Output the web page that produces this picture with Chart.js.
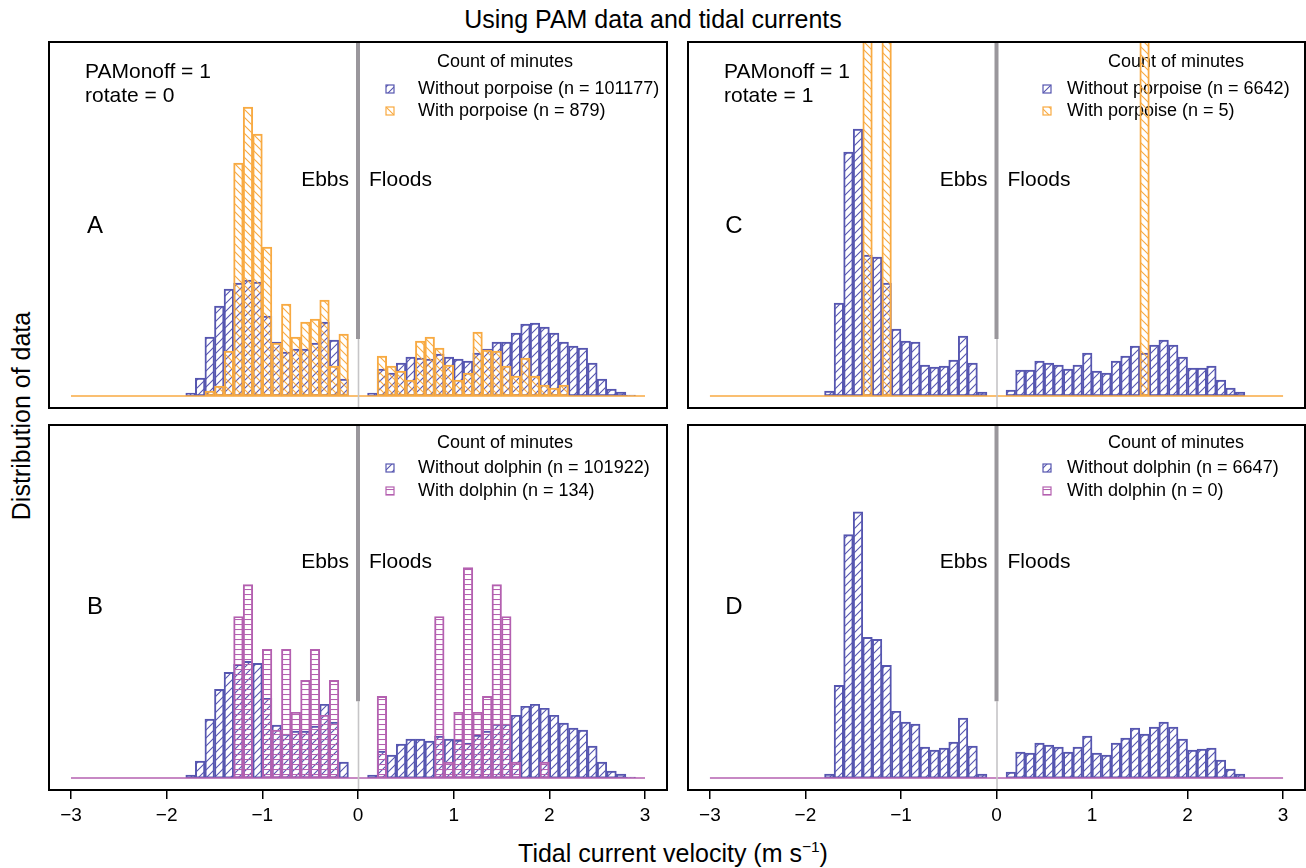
<!DOCTYPE html>
<html>
<head>
<meta charset="utf-8">
<script src="https://cdn.jsdelivr.net/npm/chart.js@4.4.0/dist/chart.umd.min.js"></script>
<style>
  body { margin: 0; background: #fff; width: 1306px; height: 868px; position: relative; overflow: hidden;
         font-family: "Liberation Sans", Arial, Helvetica, sans-serif; color: #000; }
  canvas { position: absolute; }
  .lbl { position: absolute; white-space: nowrap; transform: translate(-50%, -50%); font-size: 25px; }
  #ylab { transform: translate(-50%, -50%) rotate(-90deg); }
  sup { font-size: 0.62em; line-height: 0; }
</style>
</head>
<body>
<div class="lbl" id="title" style="left:653px; top:19px;">Using PAM data and tidal currents</div>
<div class="lbl" id="ylab" style="left:21px; top:416px;">Distribution of data</div>
<div class="lbl" id="xlab" style="left:673px; top:853px;">Tidal current velocity (m s<sup>−1</sup>)</div>

<canvas id="panelA" width="620" height="368" style="left:48px; top:41px;"></canvas>
<canvas id="panelC" width="619" height="368" style="left:687px; top:41px;"></canvas>
<canvas id="panelB" width="620" height="407" style="left:48px; top:424px;"></canvas>
<canvas id="panelD" width="619" height="407" style="left:687px; top:424px;"></canvas>

<script>
// histogram bins of tidal current velocity (m/s), 0.1 wide, centres
const binCenters = [
  -1.95, -1.85, -1.75, -1.65, -1.55, -1.45, -1.35, -1.25, -1.15, -1.05,
  -0.95, -0.85, -0.75, -0.65, -0.55, -0.45, -0.35, -0.25, -0.15, -0.05,
   0.05,  0.15,  0.25,  0.35,  0.45,  0.55,  0.65,  0.75,  0.85,  0.95,
   1.05,  1.15,  1.25,  1.35,  1.45,  1.55,  1.65,  1.75,  1.85,  1.95,
   2.05,  2.15,  2.25,  2.35,  2.45,  2.55,  2.65,  2.75,  2.85,  2.95
];

// relative density per bin (null = empty bin)
const withoutPorpoiseA = [
  null, null, 0.03, 0.18, 0.59, 0.90, 1.07, 1.13, 1.16, 1.14,
  0.80, 0.54, 0.44, 0.47, 0.47, 0.53, 0.74, 0.56, 0.17, null,
  null, 0.03, 0.27, 0.23, 0.33, 0.39, 0.38, 0.37, 0.42, 0.39,
  0.37, 0.35, 0.43, 0.47, 0.54, 0.54, 0.63, 0.72, 0.73, 0.69,
  0.63, 0.54, 0.50, 0.48, 0.33, 0.17, 0.07, 0.04, 0.01, null
];
const withPorpoiseA = [
  null, null, null, null, 0.05, 0.10, 0.45, 2.33, 2.89, 2.62,
  1.49, 0.53, 0.92, 0.59, 0.74, 0.77, 0.96, 0.30, 0.62, null,
  null, null, 0.40, 0.30, 0.25, 0.16, 0.55, 0.59, 0.48, 0.31,
  0.16, 0.23, 0.64, 0.46, 0.45, 0.30, 0.20, 0.38, 0.20, 0.11,
  0.08, 0.11, null, null, null, null, null, null, null, null
];
const withoutDolphinB = [
  null, null, 0.03, 0.17, 0.59, 0.89, 1.06, 1.14, 1.17, 1.15,
  0.80, 0.53, 0.44, 0.47, 0.47, 0.52, 0.74, 0.56, 0.16, null,
  null, 0.03, 0.27, 0.23, 0.34, 0.39, 0.39, 0.37, 0.42, 0.39,
  0.38, 0.35, 0.43, 0.47, 0.54, 0.54, 0.63, 0.72, 0.74, 0.70,
  0.63, 0.55, 0.50, 0.48, 0.32, 0.16, 0.07, 0.04, 0.01, null
];
const withDolphinB = [
  null, null, null, null, null, null, null, 1.62, 1.94, null,
  1.29, 0.48, 1.29, 0.66, 0.98, 1.29, 0.63, 0.98, null, null,
  null, null, 0.82, null, null, null, null, null, 1.62, 0.16,
  0.66, 2.11, 0.66, 0.82, 1.94, 1.62, 0.16, null, null, 0.16,
  null, null, null, null, null, null, null, null, null, null
];
const withoutPorpoiseC = [
  null, null, 0.05, 0.93, 2.44, 2.67, 1.41, 1.39, 1.13, 0.67,
  0.55, 0.54, 0.31, 0.29, 0.30, 0.36, 0.60, 0.33, 0.04, null,
  null, 0.06, 0.26, 0.26, 0.35, 0.33, 0.31, 0.27, 0.31, 0.43,
  0.25, 0.23, 0.35, 0.40, 0.50, 0.43, 0.51, 0.56, 0.51, 0.39,
  0.28, 0.28, 0.30, 0.16, 0.08, 0.04, null, null, null, null
];
const withPorpoiseC = [
  null, null, null, null, null, null, 8.0, null, 8.0, null,
  null, null, null, null, null, null, null, null, null, null,
  null, null, null, null, null, null, null, null, null, null,
  null, null, null, null, null, 4.0, null, null, null, null,
  null, null, null, null, null, null, null, null, null, null
];
const withoutDolphinD = [
  null, null, 0.04, 0.93, 2.44, 2.67, 1.41, 1.39, 1.13, 0.67,
  0.56, 0.54, 0.31, 0.28, 0.30, 0.36, 0.60, 0.32, 0.04, null,
  null, 0.06, 0.26, 0.25, 0.35, 0.33, 0.31, 0.26, 0.31, 0.42,
  0.25, 0.23, 0.35, 0.40, 0.50, 0.44, 0.51, 0.56, 0.51, 0.39,
  0.28, 0.29, 0.30, 0.18, 0.09, 0.04, null, null, null, null
];
const withDolphinD = []; // n = 0

const baselineX = [-3, 3];
const xTicks = [-3, -2, -1, 0, 1, 2, 3];
const xTickLabels = ['−3', '−2', '−1', '0', '1', '2', '3'];

const FONT = '"Liberation Sans", Arial, Helvetica, sans-serif';
const BLUE = 'rgb(86, 86, 176)';
const ORANGE = 'rgb(248, 170, 66)';
const PURPLE = 'rgb(180, 96, 176)';

// hatch fill like R's density/angle shading
function hatch(color, kind) {
  const c = document.createElement('canvas');
  const s = 8;
  c.width = s;
  c.height = kind === '-' ? 5 : s;
  const g = c.getContext('2d');
  g.strokeStyle = color;
  g.lineWidth = 1.1;
  g.beginPath();
  if (kind === '/') {
    g.moveTo(0, s); g.lineTo(s, 0);
    g.moveTo(-2, 2); g.lineTo(2, -2);
    g.moveTo(s - 2, s + 2); g.lineTo(s + 2, s - 2);
  } else if (kind === '\\') {
    g.moveTo(0, 0); g.lineTo(s, s);
    g.moveTo(-2, s - 2); g.lineTo(2, s + 2);
    g.moveTo(s - 2, -2); g.lineTo(s + 2, 2);
  } else {
    g.moveTo(0, 0.5); g.lineTo(s, 0.5);
  }
  g.stroke();
  return g.createPattern(c, 'repeat');
}

const blueHatch = hatch(BLUE, '/');
const orangeHatch = hatch(ORANGE, '\\');
const purpleHatch = hatch(PURPLE, '-');

function barSet(values, color, pattern, order) {
  return {
    type: 'bar',
    data: binCenters.map((x, i) => ({ x: x, y: values[i] === undefined ? null : values[i] })),
    backgroundColor: pattern,
    borderColor: color,
    borderWidth: 1.3,
    borderSkipped: false,
    barPercentage: 1,
    categoryPercentage: 1,
    grouped: false,
    clip: 0,
    order: order
  };
}

function baseline(color) {
  return {
    type: 'line',
    data: baselineX.map(x => ({ x: x, y: 0 })),
    borderColor: color,
    borderWidth: 1.6,
    pointRadius: 0,
    fill: false,
    order: 0
  };
}

// panel annotations: legend, labels, the flood/ebb divider and the box
function decor(spec) {
  return {
    id: 'decor',
    beforeDatasetsDraw(chart) {
      const ctx = chart.ctx, area = chart.chartArea;
      const x0 = chart.scales.x.getPixelForValue(0);
      ctx.save();
      ctx.fillStyle = '#000';
      ctx.textBaseline = 'middle';
      ctx.font = '21px ' + FONT;
      ctx.textAlign = 'left';
      spec.notes.forEach((t, k) => ctx.fillText(t, area.left + 37, area.top + 31 + 24 * k));
      ctx.textAlign = 'right';
      ctx.fillText('Ebbs', x0 - 9, area.top + spec.tideY);
      ctx.textAlign = 'left';
      ctx.fillText('Floods', x0 + 11, area.top + spec.tideY);
      ctx.font = '24px ' + FONT;
      ctx.textAlign = 'center';
      ctx.fillText(spec.letter, area.left + 47, area.top + spec.letterY);

      ctx.font = '18px ' + FONT;
      ctx.fillText('Count of minutes', area.left + spec.legend.titleX, area.top + spec.legend.titleY);
      spec.legend.items.forEach((it, k) => {
        const y = area.top + spec.legend.rowY[k];
        const sx = area.left + spec.legend.boxX;
        ctx.fillStyle = it.pattern;
        ctx.fillRect(sx - 4, y - 4, 8, 8);
        ctx.strokeStyle = it.color;
        ctx.lineWidth = 1.2;
        ctx.strokeRect(sx - 4, y - 4, 8, 8);
        ctx.fillStyle = '#000';
        ctx.textAlign = 'left';
        ctx.fillText(it.text, area.left + spec.legend.textX, y);
      });
      ctx.restore();
    },
    afterDatasetsDraw(chart) {
      const ctx = chart.ctx, area = chart.chartArea;
      const x0 = chart.scales.x.getPixelForValue(0);
      const yBreak = chart.scales.y.getPixelForValue(spec.grayBreak);
      ctx.save();
      ctx.strokeStyle = '#c6c5c7';
      ctx.lineWidth = 1.6;
      ctx.beginPath();
      ctx.moveTo(x0 + 0.5, yBreak);
      ctx.lineTo(x0 + 0.5, area.bottom);
      ctx.stroke();
      ctx.strokeStyle = '#9a979c';
      ctx.lineWidth = 4;
      ctx.beginPath();
      ctx.moveTo(x0, area.top);
      ctx.lineTo(x0, yBreak);
      ctx.stroke();
      ctx.restore();
    },
    afterDraw(chart) {
      const ctx = chart.ctx, area = chart.chartArea;
      ctx.save();
      ctx.strokeStyle = '#000';
      ctx.lineWidth = 2;
      ctx.strokeRect(area.left + 1, area.top + 1, area.width - 2, area.height - 2);
      ctx.restore();
    }
  };
}

function makePanel(id, datasets, showAxis, spec) {
  const xScale = {
    type: 'linear',
    min: -3.24,
    max: 3.24,
    offset: false,
    display: showAxis,
    afterBuildTicks: (scale) => { scale.ticks = xTicks.map(v => ({ value: v })); },
    border: { display: false },
    grid: { offset: false, drawOnChartArea: false, drawTicks: true, tickLength: 8, color: '#000', lineWidth: 1.5 },
    ticks: {
      autoSkip: false,
      maxRotation: 0,
      padding: 5,
      color: '#000',
      font: { family: FONT, size: 19 },
      callback: (v) => xTickLabels[xTicks.indexOf(v)]
    }
  };
  if (showAxis) {
    xScale.afterFit = (scale) => { scale.height = 40; };
  }
  new Chart(document.getElementById(id), {
    type: 'bar',
    data: { datasets: datasets },
    options: {
      responsive: false,
      animation: false,
      events: [],
      layout: { padding: 0 },
      plugins: { legend: { display: false }, tooltip: { enabled: false } },
      scales: {
        x: xScale,
        y: { display: false, min: -0.13, max: 3.55 }
      }
    },
    plugins: [decor(spec)]
  });
}

makePanel('panelA', [
  baseline(ORANGE),
  barSet(withPorpoiseA, ORANGE, orangeHatch, 1),
  barSet(withoutPorpoiseA, BLUE, blueHatch, 2)
], false, {
  letter: 'A', letterY: 185, tideY: 139, grayBreak: 0.57,
  notes: ['PAMonoff = 1', 'rotate = 0'],
  legend: {
    titleX: 457, titleY: 21, boxX: 342, textX: 370, rowY: [48, 70],
    items: [
      { text: 'Without porpoise (n = 101177)', color: BLUE, pattern: blueHatch },
      { text: 'With porpoise (n = 879)', color: ORANGE, pattern: orangeHatch }
    ]
  }
});

makePanel('panelC', [
  baseline(ORANGE),
  barSet(withPorpoiseC, ORANGE, orangeHatch, 1),
  barSet(withoutPorpoiseC, BLUE, blueHatch, 2)
], false, {
  letter: 'C', letterY: 185, tideY: 139, grayBreak: 0.57,
  notes: ['PAMonoff = 1', 'rotate = 1'],
  legend: {
    titleX: 489, titleY: 21, boxX: 360, textX: 380, rowY: [48, 70],
    items: [
      { text: 'Without porpoise (n = 6642)', color: BLUE, pattern: blueHatch },
      { text: 'With porpoise (n = 5)', color: ORANGE, pattern: orangeHatch }
    ]
  }
});

makePanel('panelB', [
  baseline(PURPLE),
  barSet(withDolphinB, PURPLE, purpleHatch, 1),
  barSet(withoutDolphinB, BLUE, blueHatch, 2)
], true, {
  letter: 'B', letterY: 183, tideY: 138, grayBreak: 0.77,
  notes: [],
  legend: {
    titleX: 457, titleY: 19, boxX: 342, textX: 370, rowY: [44, 67],
    items: [
      { text: 'Without dolphin (n = 101922)', color: BLUE, pattern: blueHatch },
      { text: 'With dolphin (n = 134)', color: PURPLE, pattern: purpleHatch }
    ]
  }
});

makePanel('panelD', [
  baseline(PURPLE),
  barSet(withDolphinD, PURPLE, purpleHatch, 1),
  barSet(withoutDolphinD, BLUE, blueHatch, 2)
], true, {
  letter: 'D', letterY: 183, tideY: 138, grayBreak: 0.77,
  notes: [],
  legend: {
    titleX: 489, titleY: 19, boxX: 360, textX: 380, rowY: [44, 67],
    items: [
      { text: 'Without dolphin (n = 6647)', color: BLUE, pattern: blueHatch },
      { text: 'With dolphin (n = 0)', color: PURPLE, pattern: purpleHatch }
    ]
  }
});
</script>
</body>
</html>
